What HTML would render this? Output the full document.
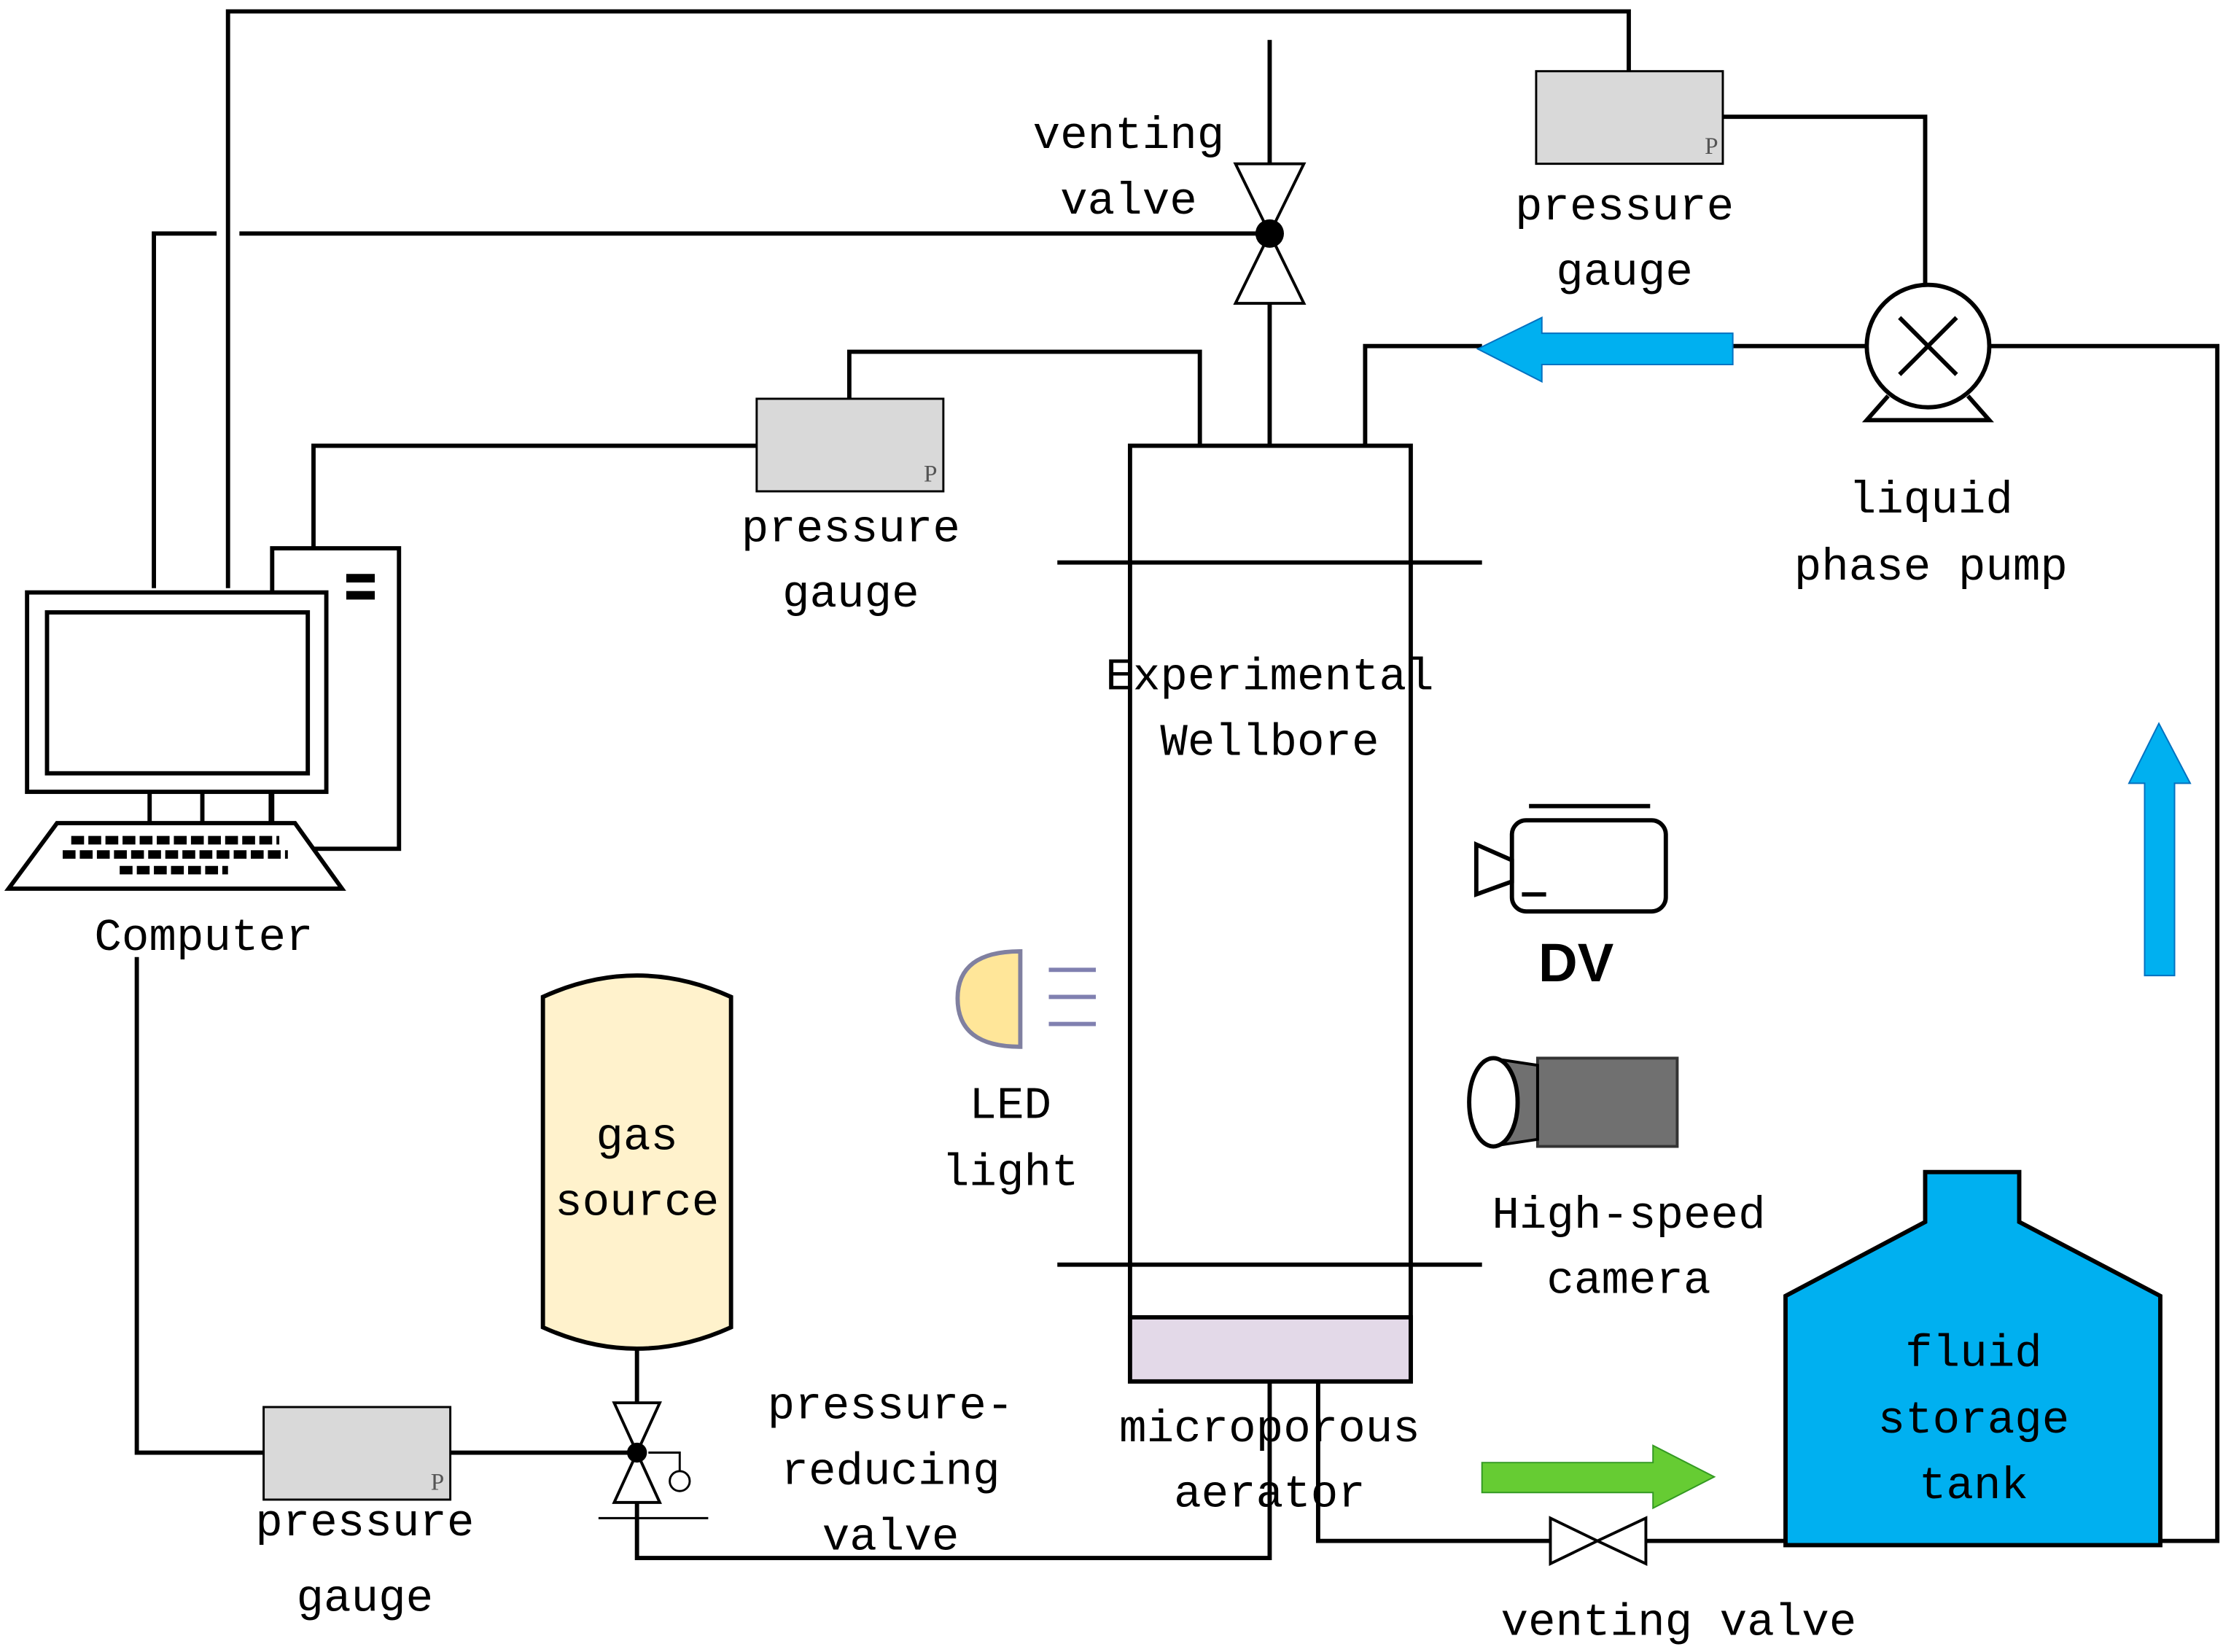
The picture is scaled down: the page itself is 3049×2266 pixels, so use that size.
<!DOCTYPE html>
<html><head><meta charset="utf-8"><style>
html,body{margin:0;padding:0;background:#fff;}
svg{display:block}
text{font-family:"Liberation Mono","Noto Serif CJK SC",monospace;font-size:32px;fill:#000;text-anchor:middle;}
text.p{font-family:"Liberation Serif",serif;font-size:17px;fill:#555;}
text.dv{font-family:"Liberation Sans",sans-serif;font-weight:bold;font-size:38px;}
</style></head><body>
<svg width="3049" height="2266" viewBox="0 0 1560 1160" preserveAspectRatio="none" xmlns="http://www.w3.org/2000/svg">
<g fill="none" stroke="#000" stroke-width="3">
<polyline points="160,413 160,8 1143,8 1143,50"/>
<polyline points="1209,82 1351,82 1351,200"/>
<line x1="891" y1="28" x2="891" y2="115"/>
<line x1="891" y1="213" x2="891" y2="313"/>
<polyline points="108,413 108,164 152,164"/>
<line x1="168" y1="164" x2="885" y2="164"/>
<polyline points="596,280 596,247 842,247 842,313"/>
<polyline points="531,313 220,313 220,385"/>
<polyline points="1310,243 1216,243"/>
<polyline points="1040,243 958,243 958,313"/>
<polyline points="1396,243 1556,243 1556,1082 1516,1082"/>
<polyline points="96,672 96,1020 185,1020"/>
<line x1="316" y1="1020" x2="447" y2="1020"/>
<line x1="447" y1="948" x2="447" y2="985"/>
<polyline points="447,1055 447,1094 891,1094 891,970"/>
<polyline points="925,970 925,1082 1088,1082"/>
<line x1="1155" y1="1082" x2="1253" y2="1082"/>
<rect x="793" y="313" width="197" height="657"/>
<line x1="742" y1="395" x2="1040" y2="395"/>
<line x1="742" y1="888" x2="1040" y2="888"/>
</g>
<rect x="793" y="925" width="197" height="45" fill="#e3d9e8" stroke="#000" stroke-width="3"/>
<g fill="#d9d9d9" stroke="#000" stroke-width="1.5">
<rect x="1078" y="50" width="131" height="65"/>
<rect x="531" y="280" width="131" height="65"/>
<rect x="185" y="988" width="131" height="65"/>
</g>
<text class="p" x="1201" y="108">P</text><text class="p" x="653" y="338">P</text><text class="p" x="307" y="1046">P</text>
<polygon points="867,115 915,115 891,164" fill="#fff" stroke="#000" stroke-width="2"/>
<polygon points="867,213 915,213 891,164" fill="#fff" stroke="#000" stroke-width="2"/>
<circle cx="891" cy="164" r="10" fill="#000"/>
<circle cx="1353" cy="243" r="43" fill="#fff" stroke="#000" stroke-width="3"/>
<line x1="1333" y1="223" x2="1373" y2="263" stroke="#000" stroke-width="3"/>
<line x1="1373" y1="223" x2="1333" y2="263" stroke="#000" stroke-width="3"/>
<polyline points="1325,278 1310,295 1396,295 1381,278" fill="none" stroke="#000" stroke-width="3"/>
<polygon points="1216,234 1082,234 1082,223 1037,245 1082,268 1082,256 1216,256" fill="#00b0f0" stroke="#0070c0" stroke-width="1"/>
<polygon points="1505,685 1505,550 1494,550 1515,508 1537,550 1526,550 1526,685" fill="#00b0f0" stroke="#0070c0" stroke-width="1"/>
<polygon points="1040,1027 1160,1027 1160,1015 1203,1037 1160,1059 1160,1048 1040,1048" fill="#66cc33" stroke="#339922" stroke-width="1"/>
<g fill="#fff" stroke="#000" stroke-width="3">
<rect x="191" y="385" width="89" height="211"/>
<rect x="19" y="416" width="210" height="140"/>
<rect x="33" y="430" width="183" height="113"/>
<polygon points="40,578 207,578 240,624 6,624"/>
</g>
<rect x="243" y="403" width="20" height="6" fill="#000"/><rect x="243" y="415" width="20" height="6" fill="#000"/>
<g stroke="#000" stroke-width="3"><line x1="105" y1="556" x2="105" y2="578"/><line x1="142" y1="556" x2="142" y2="578"/><line x1="190" y1="556" x2="190" y2="578"/></g>
<g stroke="#000" stroke-width="6" stroke-dasharray="9,3">
<line x1="50" y1="590" x2="196" y2="590"/><line x1="44" y1="600" x2="202" y2="600"/><line x1="84" y1="611" x2="160" y2="611"/>
</g>
<path d="M381,700 Q447,670 513,700 L513,932 Q447,962 381,932 Z" fill="#fff2cc" stroke="#000" stroke-width="3"/>
<polygon points="431,985 463,985 447,1020" fill="#fff" stroke="#000" stroke-width="2"/>
<polygon points="431,1055 463,1055 447,1020" fill="#fff" stroke="#000" stroke-width="2"/>
<circle cx="447" cy="1020" r="7" fill="#000"/>
<polyline points="455,1020 477,1020 477,1033" fill="none" stroke="#000" stroke-width="1.5"/>
<circle cx="477" cy="1040" r="7" fill="#fff" stroke="#000" stroke-width="1.5"/>
<line x1="420" y1="1066" x2="497" y2="1066" stroke="#000" stroke-width="1.5"/>
<polygon points="1088,1066 1088,1098 1121,1082" fill="#fff" stroke="#000" stroke-width="2"/>
<polygon points="1155,1066 1155,1098 1121,1082" fill="#fff" stroke="#000" stroke-width="2"/>
<polygon points="1253,910 1351,858 1351,823 1417,823 1417,858 1516,910 1516,1085 1253,1085" fill="#00b0f0" stroke="#000" stroke-width="3"/>
<path d="M716,668 L716,735 Q672,735 672,701 Q672,668 716,668 Z" fill="#ffe699" stroke="#8080a0" stroke-width="3"/>
<g stroke="#8080b0" stroke-width="3"><line x1="736" y1="681" x2="769" y2="681"/><line x1="736" y1="700" x2="769" y2="700"/><line x1="736" y1="719" x2="769" y2="719"/></g>
<g fill="#fff" stroke="#000" stroke-width="3">
<rect x="1061" y="576" width="108" height="64" rx="10"/>
<polygon points="1036,593 1061,604 1061,619 1036,628"/>
</g>
<line x1="1073" y1="566" x2="1158" y2="566" stroke="#000" stroke-width="3"/>
<line x1="1068" y1="628" x2="1085" y2="628" stroke="#000" stroke-width="3"/>
<rect x="1079" y="743" width="98" height="62" fill="#707070" stroke="#333" stroke-width="2"/>
<polygon points="1046,743 1079,748 1079,800 1046,805" fill="#707070" stroke="#000" stroke-width="2"/>
<ellipse cx="1048" cy="774" rx="17" ry="31" fill="#fff" stroke="#000" stroke-width="3"/>
<text x="792" y="104">venting</text><text x="792" y="150">valve</text>
<text x="1140" y="154">pressure</text><text x="1140" y="200">gauge</text>
<text x="597" y="380">pressure</text><text x="597" y="426">gauge</text>
<text x="1355" y="360">liquid</text><text x="1355" y="407">phase pump</text>
<text x="891" y="484">Experimental</text><text x="891" y="530">Wellbore</text>
<text x="143" y="667">Computer</text>
<text class="dv" x="1106" y="689">DV</text>
<text x="709" y="785">LED</text><text x="709" y="832">light</text>
<text x="1143" y="862">High-speed</text><text x="1143" y="908">camera</text>
<text x="447" y="807">gas</text><text x="447" y="853">source</text>
<text x="625" y="996">pressure-</text><text x="625" y="1042">reducing</text><text x="625" y="1088">valve</text>
<text x="891" y="1012">microporous</text><text x="891" y="1058">aerator</text>
<text x="1385" y="959">fluid</text><text x="1385" y="1006">storage</text><text x="1385" y="1052">tank</text>
<text x="1178" y="1148">venting valve</text>
<text x="256" y="1078">pressure</text><text x="256" y="1131">gauge</text>
</svg>
</body></html>
